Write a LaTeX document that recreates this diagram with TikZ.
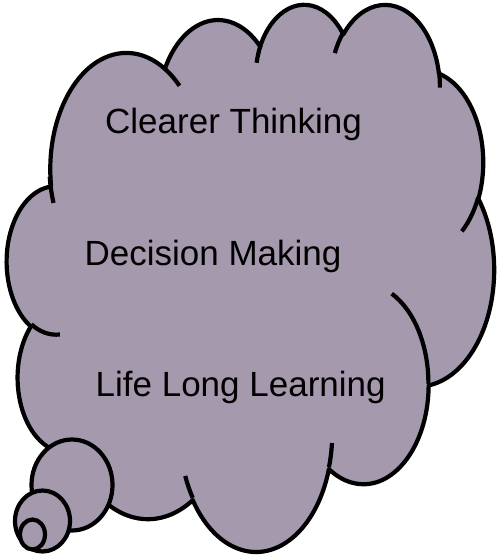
\documentclass[tikz,border=0pt]{standalone}
\usepackage{fontspec}
\setmainfont{Liberation Sans}
\definecolor{cloudfill}{RGB}{165,153,173}
\tikzset{
  carc/.style n args={4}{insert path={arc[x radius=#1, y radius=#2,
     start angle={atan2(#1*sin(#3),#2*cos(#3))},
     end angle={atan2(#1*sin(#3),#2*cos(#3)) + mod(atan2(#1*sin(#3+#4),#2*cos(#3+#4)) - atan2(#1*sin(#3),#2*cos(#3)) + 720, 360)}]}},
  cloudline/.style={line width=4.2pt, line join=round},
  txt/.style={font=\fontsize{35}{42}\selectfont, anchor=base west, inner sep=0pt}
}
\begin{document}
\begin{tikzpicture}[x=1pt, y=-1pt]
\useasboundingbox (0,0) rectangle (500,560);
\begin{scope}[shift={(7,3)}, x=1.12731pt, y=-1.26620pt]
  \filldraw[cloudline, fill=cloudfill] (39.00,143.70)
    [carc={67.53}{91.90}{-190.48748}{123.78053}]
    [carc={53.33}{72.67}{-144.10238}{89.94523}]
    [carc={43.65}{59.45}{-145.80792}{99.72302}]
    [carc={48.57}{65.95}{-130.98607}{117.24173}]
    [carc={53.33}{72.73}{-78.70888}{109.02692}]
    [carc={67.75}{92.20}{-46.26725}{130.26900}]
    [carc={57.85}{78.67}{0.62502}{114.03333}]
    [carc={67.52}{92.15}{22.45160}{115.17255}]
    [carc={77.20}{105.43}{66.24263}{75.71102}]
    [carc={43.60}{59.18}{-274.94208}{146.73557}]
    [carc={43.45}{59.45}{-246.82850}{152.51885}]
    -- cycle;
  \draw[cloudline]
    (46.93,261.77) [carc={43.45}{59.45}{86.74200}{26.42950}]
    (69.28,348.99) [carc={43.60}{59.18}{73.61047}{11.44747}]
    (164.78,390.90) [carc={67.52}{92.15}{137.62415}{14.08110}]
    (288.27,347.51) [carc={67.52}{92.15}{6.45327}{15.99835}]
    (341.29,229.54) [carc={57.85}{78.67}{-70.29235}{70.91737}]
    (417.98,153.54) [carc={53.33}{72.73}{30.31803}{27.75150}]
    (383.24,54.26) [carc={48.57}{65.95}{-13.74433}{14.85890}]
    (290.78,39.52) [carc={48.57}{65.95}{-149.18145}{18.19537}]
    (221.41,47.20) [carc={43.65}{59.45}{-163.49427}{17.68635}]
    (140.00,51.92) [carc={67.53}{91.90}{-66.70695}{12.31935}]
    (41.27,157.89) [carc={67.53}{91.90}{154.82075}{17.30302}];
\end{scope}
\filldraw[cloudline, fill=cloudfill] (72,485) ellipse [x radius=40.5, y radius=45.5];
\filldraw[cloudline, fill=cloudfill] (42.5,521) ellipse [x radius=27.5, y radius=30.5];
\filldraw[cloudline, fill=cloudfill] (32.5,534.5) ellipse [x radius=12.5, y radius=15];
\node[txt] (t1) at (105,133) {Clearer Thinking};
\node[txt] (t2) at (84.5,265) {Decision Making};
\node[txt] (t3) at (95.5,396) {Life Long Learning};
\end{tikzpicture}
\end{document}
